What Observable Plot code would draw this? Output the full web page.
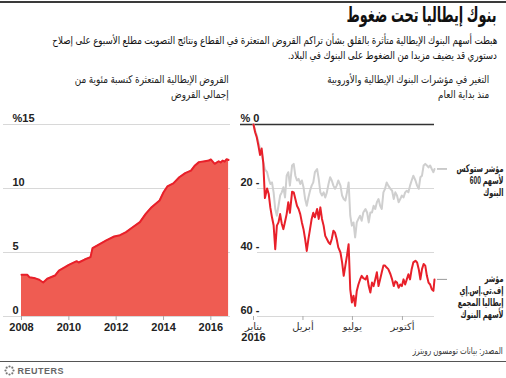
<!DOCTYPE html>
<html><head><meta charset="utf-8">
<script src="https://cdn.jsdelivr.net/npm/d3@7"></script>
<script src="https://cdn.jsdelivr.net/npm/@observablehq/plot@0.6"></script>
<style>
html,body{margin:0;padding:0;background:#fff}
body{width:506px;height:378px;position:relative;overflow:hidden;font-family:"Liberation Sans","DejaVu Sans",sans-serif;color:#222}
.abs{position:absolute;white-space:nowrap}
.rtl{direction:rtl;text-align:right;transform-origin:right center}
</style></head><body>
<script>
// ---------- Data ----------
// Left: Italian non-performing loans as % of total loans
const nplDates = ["2008-01","2008-04","2008-05","2008-08","2008-10","2008-12","2009-02","2009-06","2009-08","2009-11",
  "2010-01","2010-05","2010-06","2010-09","2010-12","2011-01","2011-04","2011-08","2011-12","2012-03",
  "2012-06","2012-09","2013-01","2013-04","2013-07","2013-11","2014-01","2014-03","2014-06","2014-09",
  "2014-12","2015-03","2015-05","2015-07","2015-10","2015-12","2016-01","2016-03","2016-05","2016-06",
  "2016-07","2016-08","2016-09","2016-10"];
const nplRatio = [3.26,3.26,3.07,2.98,2.87,2.66,2.95,3.2,3.59,3.85,
  4.04,4.32,4.22,4.45,4.64,5.34,5.6,5.94,6.25,6.35,
  6.59,6.93,7.37,8.02,8.54,9.06,9.71,10.16,10.4,10.88,
  11.2,11.4,11.8,12.06,12.13,12.18,12.27,11.93,12.13,12.03,
  12.18,12.1,12.29,12.23];
const nplTicks = [0,5,10,15];
const nplYearTicks = ["2008","2010","2012","2014","2016"];

// Right: change in bank indices since start of 2016 (%), by day of year
const dayOffsets = [0,3,6,9,12,15,18,21,25,28,31,34,37,40,43,46,49,52,55,58,61,64,67,71,74,77,80,83,86,89,
  92,95,98,101,104,107,110,113,117,120,123,126,129,132,135,138,141,144,147,150,153,156,160,163,166,169,172,175,178,181,
  184,187,190,193,196,199,202,206,209,212,215,218,221,224,227,230,233,236,239,242,245,248,252,255,258,261,264,267,270,273,
  276,279,282,285,288,291,294,298,301,304,307,310,313,316,319,322,325,328,331,333];
const ftseItalyBanks = [0,-2.4,-4,-6.6,-9.5,-7.5,-12,-23,-20,-21.7,-26,-29,-31.5,-39,-31.6,-30.6,-28,-31,-32.7,-30.4,
  -28,-24.3,-27.6,-21,-21.2,-23.3,-25.4,-26.4,-28,-30.6,-32.7,-35.8,-39.5,-35.8,-32.7,-29.5,-27.6,-29,-26.4,-29.5,
  -25.9,-29.5,-31.6,-34.8,-35.8,-36.8,-37.4,-35.8,-33.2,-33.8,-35.8,-38.4,-40,-43.1,-47.3,-44.1,-41,-37.4,-51.5,-55.6,
  -53.5,-56.7,-52,-50,-48.5,-47.3,-48,-48.4,-47.3,-50.5,-52.5,-49.4,-50.5,-48.4,-46.2,-50.5,-48.4,-46.2,-44.1,-44.1,
  -44.7,-45.2,-46.8,-48.4,-50.5,-49,-49.4,-51,-50,-50.5,-48.4,-50,-48.4,-46.8,-48.4,-45.2,-43.1,-42.6,-43.1,-45.2,
  -48.4,-45.2,-43.6,-44.1,-47.3,-49.4,-50,-51.5,-52,-48.4];
const stoxxBanks = [0,-1.9,-3.4,-5.5,-7.6,-8.7,-11.8,-14,-14.9,-17,-18.6,-18.1,-21.2,-26.4,-28.5,-25.4,-22.2,-21.2,-19.6,-22.8,
  -16,-14.9,-19.1,-12.8,-12.3,-16,-17.5,-17,-18.6,-17.5,-19.6,-23.3,-25.4,-22.8,-20.7,-19.1,-18.1,-14.9,-13.9,-17,
  -21.2,-22.2,-21.2,-22.8,-21.2,-18.6,-16.5,-17.5,-19.1,-20.1,-19.1,-17.5,-19.1,-22.2,-23.3,-23.8,-21.2,-18.1,-28.5,-31.6,
  -30.6,-35.3,-30.6,-29.5,-28.5,-30.1,-27.5,-26.4,-27.5,-30.6,-27.5,-27.5,-25.4,-26.4,-24.3,-23.3,-25.4,-26.4,-21.2,-20.1,
  -18.1,-19.1,-20.1,-20.7,-23.3,-21.2,-22.2,-24.3,-23.3,-22.2,-22.8,-21.2,-20.7,-21.2,-19.1,-17.5,-16,-17.5,-19.1,-20.1,
  -16.5,-16,-12.8,-12.3,-12.8,-13.4,-12.8,-13.9,-14.9,-13.9];
const idxTicks = [0,-20,-40,-60];
const monthTicks = ["2016-01-01","2016-04-01","2016-07-01","2016-10-01"];
const monthNames = ["يناير","أبريل","يوليو","أكتوبر"];
const seriesNames = ["مؤشر ستوكس\nلأسهم 600\nالبنوك", "مؤشر\nإف.تي.إس.إي\nإيطاليا المجمع\nلأسهم البنوك"];

// ---------- Build tables ----------
const npl = nplDates.map((d,i)=>({date:new Date(d+"-01"), value:nplRatio[i]}));
const start = new Date("2016-01-01");
const dayDate = d => new Date(start.getTime() + d*86400000);
const ftse = dayOffsets.map((d,i)=>({date:dayDate(d), value:ftseItalyBanks[i]}));
const stoxx = dayOffsets.map((d,i)=>({date:dayDate(d), value:stoxxBanks[i]}));
const ends = [
  {value: stoxx[stoxx.length-1].value, label: seriesNames[0]},
  {value: ftse[ftse.length-1].value, label: seriesNames[1]}
];
const font = '"Liberation Sans","DejaVu Sans",sans-serif';
const red = "#e8202a", grid = "#d8d8d8";

// ---------- Static text ----------
function add(html, style, cls="abs", fitW=null){const el=document.createElement("div");el.className=cls;el.setAttribute("style",style);el.innerHTML=html;if(fitW)el.dataset.w=fitW;document.body.appendChild(el);return el;}
add("", "left:0;top:1px;width:506px;height:2px;background:#3a3a3a");
add("بنوك إيطاليا تحت ضغوط", "right:9px;top:3px;font-size:21px;font-weight:bold;color:#111", "abs rtl", 150);
const sub1 = add("هبطت أسهم البنوك الإيطالية متأثرة بالقلق بشأن تراكم القروض المتعثرة في القطاع ونتائج التصويت مطلع الأسبوع على إصلاح",
    "right:9px;top:33px;font-size:10.5px;line-height:14.5px;color:#111", "abs rtl", 445);
const sub2 = add("دستوري قد يضيف مزيدا من الضغوط على البنوك في البلاد.",
    "right:9px;top:47.5px;font-size:10.5px;line-height:14.5px;color:#111", "abs rtl");
add("القروض الإيطالية المتعثرة كنسبة مئوية من<br>إجمالي القروض", "right:277px;top:72px;font-size:10.5px;line-height:15px;color:#222", "abs rtl", 154);
add("التغير في مؤشرات البنوك الإيطالية والأوروبية<br>منذ بداية العام", "right:17px;top:72px;font-size:10.5px;line-height:15px;color:#222", "abs rtl", 162);
add("المصدر: بيانات تومسون رويترز", "right:3px;top:345px;font-size:9.5px;color:#333", "abs rtl", 90);
add("", "left:0;top:361px;width:506px;height:1px;background:#555");
add('<svg width="11" height="11" viewBox="0 0 11 11" style="vertical-align:-2px"><g fill="#777">'+
    [0,45,90,135,180,225,270,315].map(a=>{const r=4,x=5.5+r*Math.cos(a*Math.PI/180),y=5.5+r*Math.sin(a*Math.PI/180);return `<circle cx="${x}" cy="${y}" r="1.1"/>`}).join("")+
    '</g></svg> <span style="letter-spacing:0.5px">REUTERS</span>', "left:4px;top:365px;font-size:9px;color:#666;font-weight:bold");

// fit Arabic text widths (fallback font is wider than the original)
document.querySelectorAll("[data-w]").forEach(el=>{
  const w = el.getBoundingClientRect().width;
  const s = (+el.dataset.w)/w;
  el.style.transform = `scaleX(${s})`;
  if (el === sub1) sub2.style.transform = `scaleX(${s})`;
});

// ---------- Left chart ----------
const left = Plot.plot({
  width: 240, height: 230,
  marginTop: 14, marginBottom: 24, marginLeft: 21, marginRight: 11,
  style: {fontFamily: font, fontSize: "11px", color: "#222", background: "transparent", overflow: "visible"},
  x: {type: "utc", domain: [new Date("2008-01-01"), new Date("2016-10-15")]},
  y: {domain: [0, 15], axis: null},
  marks: [
    Plot.ruleY(nplTicks, {stroke: grid, strokeWidth: 1, insetLeft: -18, insetRight: -1}),
    Plot.areaY(npl, {x: "date", y: "value", fill: "#ef5c52"}),
    Plot.lineY(npl, {x: "date", y: "value", stroke: red, strokeWidth: 2}),
    Plot.text(nplTicks, {y: d => d, text: d => d === 15 ? "%15" : String(d), frameAnchor: "left", textAnchor: "start", dx: -9, dy: -6, fontWeight: "bold", fill: "#222"}),
    Plot.axisX(nplYearTicks.map(y => new Date(y + "-01-01")), {tickFormat: d3.utcFormat("%Y"), tickSize: 4, tickPadding: 3, stroke: "#aaa", fill: "#222", fontWeight: "bold", label: null})
  ]
});
left.style.position = "absolute"; left.style.left = "0px"; left.style.top = "110px";
document.body.appendChild(left);

// ---------- Right chart ----------
const right = Plot.plot({
  width: 266, height: 240,
  marginTop: 14, marginBottom: 34, marginLeft: 13, marginRight: 72,
  style: {fontFamily: font, fontSize: "11px", color: "#222", background: "transparent", overflow: "visible"},
  x: {type: "utc", domain: [start, dayDate(333)]},
  y: {domain: [-60, 0], axis: null},
  marks: [
    Plot.ruleY(idxTicks.filter(d => d !== 0), {stroke: grid, strokeWidth: 1, insetLeft: 4}),
    Plot.ruleY([0], {stroke: "#333", strokeWidth: 1.5, insetLeft: -13}),
    Plot.lineY(stoxx, {x: "date", y: "value", stroke: "#cfcfcf", strokeWidth: 2}),
    Plot.lineY(ftse, {x: "date", y: "value", stroke: red, strokeWidth: 2}),
    Plot.text(idxTicks, {y: d => d, text: d => d === 0 ? "% 0" : `${-d} -`, frameAnchor: "left", textAnchor: "start", dx: -13, dy: -6, fontWeight: "bold", fill: "#222"}),
    Plot.axisX(monthTicks.map(d => new Date(d)), {tickFormat: (d, i) => monthNames[i], tickSize: 4, tickPadding: 2, stroke: "#aaa", fill: "#333", fontSize: 10, label: null}),
    Plot.text([start], {x: d => d, text: ["2016"], frameAnchor: "bottom", dy: 24, fontWeight: "bold", fontSize: 11, fill: "#222"}),
    Plot.ruleY(ends, {y: "value", stroke: "#999", strokeWidth: 1, insetLeft: 184, insetRight: -13}),
    Plot.text(ends, {y: "value", text: "label", frameAnchor: "right", textAnchor: "end", lineAnchor: "top", dx: 69, dy: -6, fontSize: 10.5, fontWeight: "bold", lineHeight: 1.15, fill: "#222"})
  ]
});
right.style.position = "absolute"; right.style.left = "240px"; right.style.top = "110px";
document.body.appendChild(right);

// condense the Arabic series labels to the original's width
{
  const groups = right.querySelectorAll('g[aria-label="text"]');
  const g = groups[groups.length - 1];
  let maxW = 0;
  g.querySelectorAll("tspan").forEach(t => { maxW = Math.max(maxW, t.getComputedTextLength()); });
  const s = maxW > 0 ? 47 / maxW : 1;
  g.querySelectorAll("text").forEach(t => t.setAttribute("transform", (t.getAttribute("transform") || "") + ` scale(${s},1)`));
}
</script>
</body></html>
